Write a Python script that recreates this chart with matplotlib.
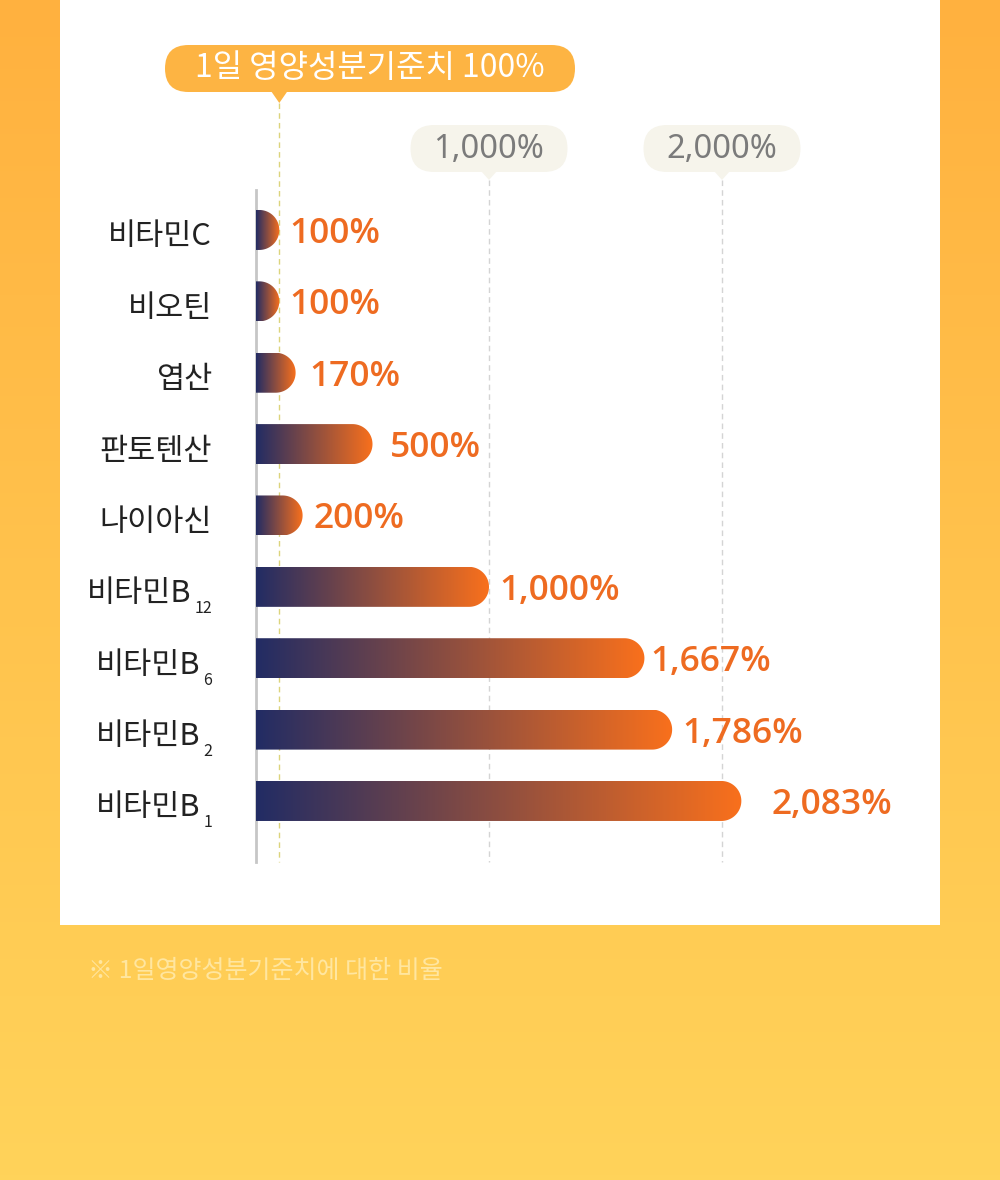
import numpy as np
import matplotlib
matplotlib.use('Agg')
import matplotlib.pyplot as plt
from matplotlib.path import Path
from matplotlib.patches import PathPatch, FancyBboxPatch, Rectangle, Polygon
from matplotlib.colors import LinearSegmentedColormap
from matplotlib import transforms

# data
nutrients = ['비타민C', '비오틴', '엽산', '판토텐산', '나이아신', '비타민B', '비타민B', '비타민B', '비타민B']
subscripts = ['', '', '', '', '', '12', '6', '2', '1']
percent = [100, 100, 170, 500, 200, 1000, 1667, 1786, 2083]
ticks = [1000, 2000]
tick_labels = ['1,000%', '2,000%']
ref_value = 100
ref_label = '1일 영양성분기준치 100%'
note = '※ 1일영양성분기준치에 대한 비율'

# style: pixel gap between bar end and value label
label_gap = [10, 10, 14, 17, 11, 10, 6, 10, 30]

plt.rcParams['font.family'] = ['Noto Sans CJK KR', 'DejaVu Sans']

fig = plt.figure(figsize=(10, 11.8), dpi=100)

# background in pixel coordinates
bg = fig.add_axes([0, 0, 1, 1])
bg.set_xlim(0, 1000)
bg.set_ylim(1180, 0)
bg.axis('off')
bg_cmap = LinearSegmentedColormap.from_list('bg', ['#FFB13F', '#FFC34D', '#FFD35A'])
bg.imshow(np.linspace(0, 1, 256).reshape(-1, 1), cmap=bg_cmap,
          extent=(0, 1000, 1180, 0), aspect='auto', zorder=0)
bg.add_patch(Rectangle((60, -5), 880, 930, fc='white', ec='none', zorder=1))
bg.text(88, 971, note, color='#FFE6A0', fontsize=18, va='center', ha='left', zorder=2)

# chart axes: 0 at x=256px, 2000 at x=722px
ax = fig.add_axes([0.256, 1 - 862 / 1180, 0.644, 677 / 1180])
ax.axis('off')
xlim = (0, 2000 * 644 / 466)
ylim = (8.855, -0.63)
ax.set_xlim(*xlim)
ax.set_ylim(*ylim)

p0 = ax.transData.transform((0, 0))
sx = ax.transData.transform((1, 0))[0] - p0[0]
sy = abs(ax.transData.transform((0, 1))[1] - p0[1])
rx = 20 / sx
hy = 20 / sy

bar_cmap = LinearSegmentedColormap.from_list('bar', ['#222C64', '#F9701C'])
grad = np.linspace(0, 1, 256).reshape(1, -1)

for i, v in enumerate(percent):
    cx = v - rx
    t = np.linspace(-np.pi / 2, np.pi / 2, 50)
    arc = np.column_stack([cx + rx * np.cos(t), i + hy * np.sin(t)])
    verts = [(0, i - hy)] + arc.tolist() + [(0, i + hy), (0, i - hy)]
    codes = [Path.MOVETO] + [Path.LINETO] * (len(verts) - 2) + [Path.CLOSEPOLY]
    patch = PathPatch(Path(verts, codes), fc='none', ec='none')
    ax.add_patch(patch)
    im = ax.imshow(grad, cmap=bar_cmap, extent=(0, v, i + hy, i - hy),
                   aspect='auto', interpolation='bilinear', zorder=2)
    im.set_clip_path(patch)

    ax.annotate(f'{v:,}%', xy=(v, i), xytext=(label_gap[i], 0),
                textcoords='offset pixels', ha='left', va='center_baseline',
                fontsize=25.5, fontweight='semibold', color='#EE6B21',
                family=['Open Sans', 'DejaVu Sans'], annotation_clip=False)

    if subscripts[i]:
        s = ax.annotate(subscripts[i], xy=(0, i), xytext=(-44, -22),
                        textcoords='offset pixels', ha='right', va='center',
                        fontsize=11.5, color='#222222', annotation_clip=False)
        ax.annotate(nutrients[i], xy=(0, i), xycoords=(s, 'data'),
                    xytext=(-3, -7), textcoords='offset pixels', ha='right',
                    va='center', fontsize=22, color='#222222', annotation_clip=False)
    else:
        ax.annotate(nutrients[i], xy=(0, i), xytext=(-44, -7),
                    textcoords='offset pixels', ha='right', va='center',
                    fontsize=22, color='#222222', annotation_clip=False)

# guide lines, x in data, y in pixels
trans = transforms.blended_transform_factory(ax.transData, bg.transData)
ax.plot([0, 0], [190, 862], transform=trans, color='#C6C6C6', lw=2,
        clip_on=False, zorder=1)
ax.plot([ref_value, ref_value], [103, 862], transform=trans, color='#DCD47C',
        lw=1, ls=(0, (4, 3)), clip_on=False, zorder=1)
for tv in ticks:
    ax.plot([tv, tv], [180, 862], transform=trans, color='#D4D4D4',
            lw=1, ls=(0, (4, 3)), clip_on=False, zorder=1)

ax.set_xlim(*xlim)
ax.set_ylim(*ylim)


def to_bg(xv):
    return bg.transData.inverted().transform(ax.transData.transform((xv, 0)))[0]


# reference bubble
rx_px = to_bg(ref_value)
bg.add_patch(FancyBboxPatch((165, 45), 410, 47, boxstyle='round,pad=0,rounding_size=23.5',
                            fc='#FDB443', ec='none', zorder=3))
bg.add_patch(Polygon([(rx_px - 9, 90), (rx_px + 9, 90), (rx_px, 103)],
                     fc='#FDB443', ec='none', zorder=3))
bg.text(370, 68.5, ref_label, color='white', fontsize=23, ha='center',
        va='center', zorder=4)

# tick bubbles
for tv, lab in zip(ticks, tick_labels):
    cx = to_bg(tv)
    bg.add_patch(FancyBboxPatch((cx - 78.5, 125), 157, 47,
                                boxstyle='round,pad=0,rounding_size=23.5',
                                fc='#F6F4EB', ec='none', zorder=3))
    bg.add_patch(Polygon([(cx - 8, 171), (cx + 8, 171), (cx, 180)],
                         fc='#F6F4EB', ec='none', zorder=3))
    bg.text(cx, 149, lab, color='#7B7B7B', fontsize=23.5, ha='center',
            va='center', family=['Noto Sans', 'DejaVu Sans'], zorder=4)

fig.savefig('out.png', dpi=100)
